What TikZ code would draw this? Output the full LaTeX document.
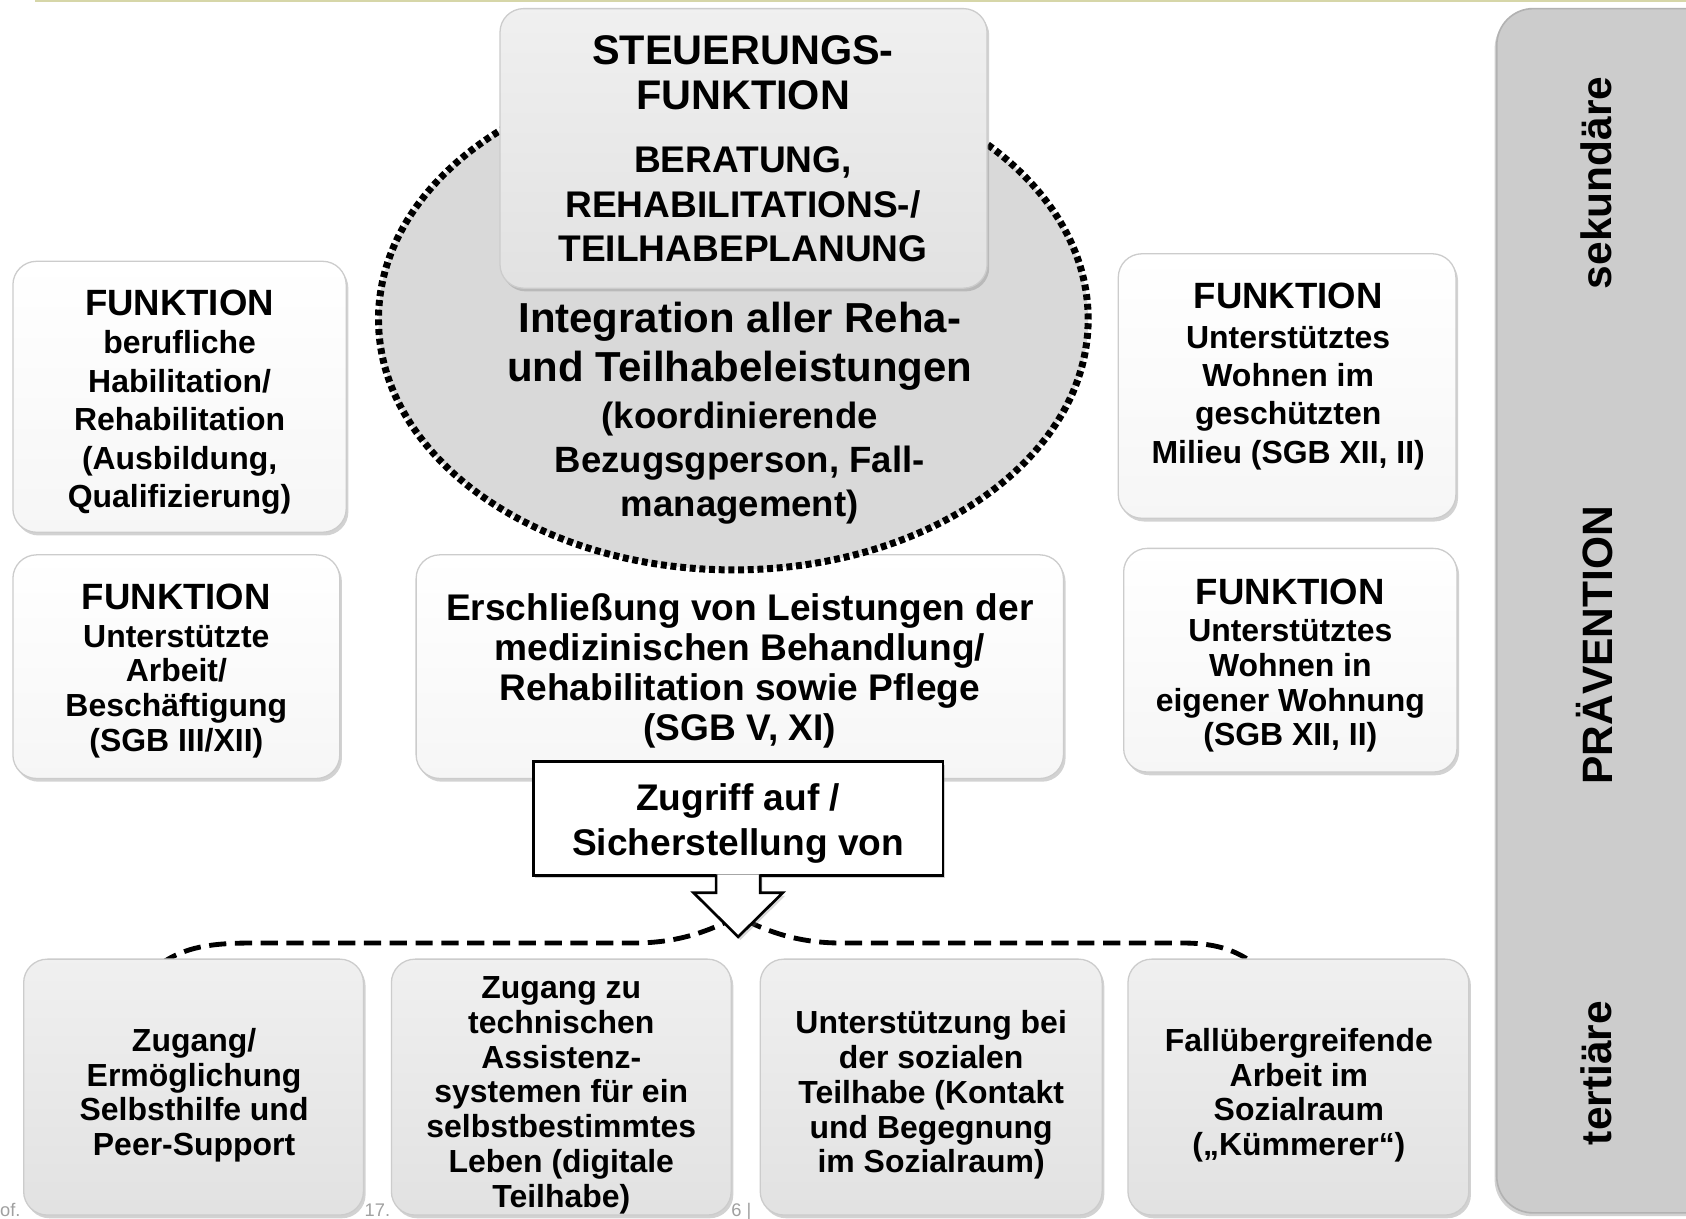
\documentclass[tikz,border=0pt]{standalone}
\usepackage{fontspec}
\setmainfont{Liberation Sans}
\usetikzlibrary{shadows,shapes.geometric,calc}
\newcommand\setfs[2]{\fontsize{#1}{#2}\selectfont}
\definecolor{rulecol}{RGB}{214,214,168}
\definecolor{footcol}{RGB}{160,160,160}
\begin{document}
\begin{tikzpicture}[x=1pt,y=-1pt,
  panel/.style={rounded corners=22pt, draw=gray!40, line width=1.2pt, inner sep=0pt,
    drop shadow={shadow xshift=2pt, shadow yshift=-3pt, opacity=0.35}},
  whitepanel/.style={panel, top color=white, bottom color=gray!7},
  graypanel/.style={panel, top color=gray!12, bottom color=gray!23},
  txt/.style={inner sep=0pt, align=center, font=\bfseries\setfs{29.7}{32.3}},
  sidetxt/.style={inner sep=0pt, font=\bfseries\setfs{39.5}{42}, rotate=90},
  foot/.style={inner sep=0pt, anchor=base west, text=footcol, font=\setfs{17}{18}},
  ovaldots/.style={line width=6.5pt, dash pattern=on 5.5pt off 3.5pt},
  bracedash/.style={line width=4.5pt, dash pattern=on 16pt off 8pt},
]
\useasboundingbox (0,0) rectangle (1568,1133);
\fill[white] (0,0) rectangle (1568,1133);

% thin rule along the top edge
\coordinate (ruleL) at (33,1);
\coordinate (ruleR) at (1568,1);
\draw[rulecol, line width=2pt] (ruleL) -- (ruleR);

% footer fragments that the panels cover
\node[foot] (foot1) at (0,1131) {of.};
\node[foot] (foot2) at (339,1131) {17.};
\node[foot] (foot3) at (680,1131) {6 |};

% prevention bar on the right
\draw[rounded corners=34pt, fill=gray!40, draw=gray!60, line width=1.5pt,
  drop shadow={shadow xshift=-2pt, shadow yshift=-3pt, opacity=0.35}]
  (1620,8) -- (1392,8) -- (1392,1128) -- (1620,1128);
\node[sidetxt] (sek) at (1485,170) {sekundäre};
\node[sidetxt] (prae) at (1483,600) {PRÄVENTION};
\node[sidetxt] (tert) at (1485,998) {tertiäre};

% function panels left and right
\node[whitepanel, minimum width=310pt, minimum height=252pt] (beruf) at (167,369) {};
\node[txt, font=\bfseries\setfs{29.7}{35.7}] (berufT) at (167,374)
  {{\setfs{34}{36}FUNKTION}\\berufliche\\Habilitation/\\Rehabilitation\\(Ausbildung,\\Qualifizierung)};
\node[whitepanel, minimum width=304pt, minimum height=208pt] (arbeit) at (164,620) {};
\node[txt] (arbeitT) at (164,624)
  {{\setfs{34}{36}FUNKTION}\\[2.5pt]Unterstützte\\Arbeit/\\Beschäftigung\\(SGB III/XII)};
\node[whitepanel, minimum width=314pt, minimum height=246pt] (milieu) at (1197,359) {};
\node[txt, font=\bfseries\setfs{29.7}{35.7}] (milieuT) at (1198,350)
  {{\setfs{34}{36}FUNKTION}\\[1.5pt]Unterstütztes\\Wohnen im\\geschützten\\Milieu (SGB XII, II)};
\node[whitepanel, minimum width=310pt, minimum height=208pt] (wohnung) at (1200,614) {};
\node[txt] (wohnungT) at (1200,619)
  {{\setfs{34}{36}FUNKTION}\\[2.5pt]Unterstütztes\\Wohnen in\\eigener Wohnung\\(SGB XII, II)};

% medical services panel
\node[whitepanel, minimum width=602pt, minimum height=208pt] (medizin) at (688,620) {};
\node[txt, font=\bfseries\setfs{34.5}{37}] (medizinT) at (688,624)
  {Erschließung von Leistungen der\\medizinischen Behandlung/\\Rehabilitation sowie Pflege\\(SGB V, XI)};

% dotted oval of integration
\node[ellipse, fill=gray!30, draw=black, ovaldots, minimum width=660pt, minimum height=466pt] (integ) at (682,297) {};
\node[txt, font=\bfseries\setfs{39}{46}] (integT) at (688,322)
  {Integration aller Reha-\\und Teilhabeleistungen};
\node[txt, font=\bfseries\setfs{34}{41}] (integS) at (688,431)
  {(koordinierende\\Bezugsgperson, Fall-\\management)};

% steering panel on top
\node[graypanel, minimum width=453pt, minimum height=260pt] (steuer) at (691.5,138) {};
\node[txt, font=\bfseries\setfs{38.5}{42}] (steuerT) at (691,68)
  {STEUERUNGS-\\FUNKTION};
\node[txt, font=\bfseries\setfs{34.5}{41.5}] (steuerS) at (691,190)
  {BERATUNG,\\REHABILITATIONS-/\\TEILHABEPLANUNG};

% dashed brace fanning out to the bottom row
\coordinate (braceL) at (150,896);
\coordinate (braceM) at (686,852);
\coordinate (braceR) at (1166,896);
\draw[bracedash] (braceL) .. controls (172,881) and (195,877) .. (235,877) -- (590,877)
  .. controls (630,877) and (660,866) .. (braceM)
  .. controls (712,866) and (742,877) .. (782,877) -- (1100,877)
  .. controls (1135,877) and (1152,886) .. (braceR);

% bottom row of services
\node[graypanel, minimum width=316pt, minimum height=238pt] (selbst) at (180,1011) {};
\node[graypanel, minimum width=316pt, minimum height=238pt] (technik) at (522,1011) {};
\node[graypanel, minimum width=318pt, minimum height=238pt] (sozial) at (866,1011) {};
\node[graypanel, minimum width=317pt, minimum height=238pt] (kuemmer) at (1207.5,1011) {};
\node[txt] (selbstT) at (180.5,1018.5) {Zugang/\\Ermöglichung\\Selbsthilfe und\\Peer-Support};
\node[txt] (technikT) at (522,1018.5) {Zugang zu\\technischen\\Assistenz-\\systemen für ein\\selbstbestimmtes\\Leben (digitale\\Teilhabe)};
\node[txt] (sozialT) at (866,1018.5) {Unterstützung bei\\der sozialen\\Teilhabe (Kontakt\\und Begegnung\\im Sozialraum)};
\node[txt] (kuemmerT) at (1208,1018.5) {Fallübergreifende\\Arbeit im\\Sozialraum\\(„Kümmerer“)};

% access box with block arrow
\node[draw=black, fill=white, line width=2.5pt, inner sep=0pt,
  minimum width=381pt, minimum height=106pt,
  drop shadow={shadow xshift=2pt, shadow yshift=-3pt, opacity=0.35}] (zugriff) at (686.5,761) {};
\node[txt, font=\bfseries\setfs{34.5}{42}] (zugriffT) at (686.5,766)
  {Zugriff auf /\\Sicherstellung von};
\filldraw[fill=white, draw=black, line width=2.5pt, line join=miter,
  drop shadow={shadow xshift=2pt, shadow yshift=-3pt, opacity=0.3}]
  ($(zugriff.south)+(-20.5,-2)$) -- ++(0,17) -- ++(-21,0) -- ($(zugriff.south)+(0,56)$)
  -- ($(zugriff.south)+(41.5,15)$) -- ++(-21,0) -- ++(0,-17);
\end{tikzpicture}
\end{document}
